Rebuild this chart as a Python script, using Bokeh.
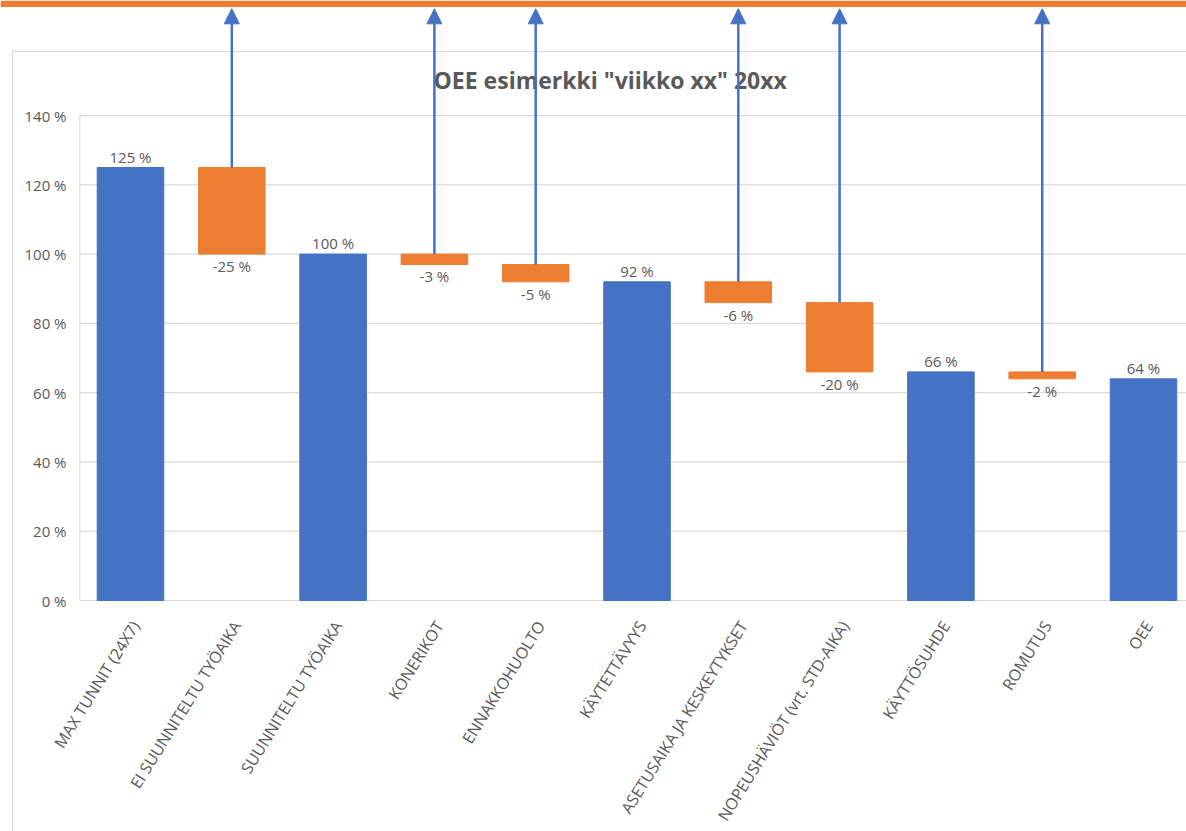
import math
from bokeh.plotting import figure
from bokeh.models import Range1d, ColumnDataSource, Arrow, NormalHead
from bokeh.core.properties import value
from bokeh.embed import file_html
from bokeh.resources import INLINE

# ---------------- data ----------------
categories = ["MAX TUNNIT (24X7)", "EI SUUNNITELTU TYÖAIKA", "SUUNNITELTU TYÖAIKA",
              "KONERIKOT", "ENNAKKOHUOLTO", "KÄYTETTÄVYYS", "ASETUSAIKA JA KESKEYTYKSET",
              "NOPEUSHÄVIÖT (vrt. STD-AIKA)", "KÄYTTÖSUHDE", "ROMUTUS", "OEE"]
values = [125, -25, 100, -3, -5, 92, -6, -20, 66, -2, 64]
is_total = [True, False, True, False, False, True, False, False, True, False, True]
y_ticks = [0, 20, 40, 60, 80, 100, 120, 140]
y_tick_labels = ["0 %", "20 %", "40 %", "60 %", "80 %", "100 %", "120 %", "140 %"]
title_text = 'OEE esimerkki "viikko xx" 20xx'

BLUE = "#4472C4"
ORANGE = "#ED7D31"
GRID = "#D9D9D9"
TXT = "#595959"
FONT = "Open Sans"

W, H = 1186, 831
CAT0_PX = 130.0      # pixel x of first category centre
PX_PER_CAT = 101.3
ZERO_PY = 600.0      # pixel y of 0 %
PX_PER_PCT = 3.464

X0 = -CAT0_PX / PX_PER_CAT
X1 = (W - CAT0_PX) / PX_PER_CAT
YT = ZERO_PY / PX_PER_PCT
YB = -(H - ZERO_PY) / PX_PER_PCT


def px2x(px):
    return X0 + px / PX_PER_CAT


def py2y(py):
    return (ZERO_PY - py) / PX_PER_PCT


# waterfall geometry from values
tot_x, tot_top = [], []
del_x, del_top, del_bot = [], [], []
running = 0
for i, (v, t) in enumerate(zip(values, is_total)):
    if t:
        running = v
        tot_x.append(i)
        tot_top.append(v)
    else:
        del_x.append(i)
        del_top.append(running)
        del_bot.append(running + v)
        running = running + v

p = figure(width=W, height=H, output_backend="svg", toolbar_location=None,
           x_range=Range1d(X0, X1), y_range=Range1d(YB, YT),
           x_axis_location=None, y_axis_location=None, min_border=0)
p.grid.visible = False
p.outline_line_color = None
p.background_fill_color = "white"
p.border_fill_color = "white"

# outer chart frame (left & top)
p.line(x=[px2x(12), px2x(12)], y=[py2y(51), YB], line_color=GRID, line_width=1.2)
p.line(x=[px2x(12), X1], y=[py2y(51), py2y(51)], line_color=GRID, line_width=1.2)

# gridlines
p.segment(x0=[-0.5] * len(y_ticks), x1=[X1] * len(y_ticks), y0=y_ticks, y1=y_ticks,
          line_color=GRID, line_width=1.2)
# plot-area left edge
p.line(x=[-0.5, -0.5], y=[y_ticks[0], y_ticks[-1]], line_color=GRID, line_width=1)

# bars
BW = 0.657
p.vbar(x=tot_x, top=tot_top, bottom=0, width=BW, fill_color=BLUE, line_color=BLUE)
p.vbar(x=del_x, top=del_top, bottom=del_bot, width=BW, fill_color=ORANGE, line_color=ORANGE)

# data labels
p.text(x=tot_x, y=tot_top, text=[f"{v} %" for v in tot_top], text_align="center",
       text_baseline="middle", y_offset=-11, text_font=value(FONT),
       text_font_size="15px", text_color=TXT)
del_vals = [values[i] for i in del_x]
p.text(x=del_x, y=del_bot, text=[f"{v} %" for v in del_vals], text_align="center",
       text_baseline="middle", y_offset=12, text_font=value(FONT),
       text_font_size="15px", text_color=TXT)

# y tick labels
p.text(x=[px2x(66)] * len(y_ticks), y=y_ticks, text=y_tick_labels, text_align="right",
       text_baseline="middle", text_font=value(FONT), text_font_size="15px", text_color=TXT)

# x category labels
p.text(x=list(range(len(categories))), y=[0] * len(categories), text=categories,
       angle=math.radians(58), text_align="right", text_baseline="middle",
       x_offset=5, y_offset=22, text_font=value(FONT), text_font_size="16px",
       text_color=TXT)

# title
p.text(x=[px2x(609.7)], y=[py2y(79)], text=[title_text], text_align="center",
       text_baseline="middle", text_font=value(FONT), text_font_size="23px",
       text_font_style="bold", text_color=TXT)

# orange band on top
p.quad(left=[X0], right=[X1], top=[YT], bottom=[py2y(6.5)], fill_color=ORANGE,
       line_color=None)

# arrows from each loss bar to the top
arr = ColumnDataSource(dict(x=del_x, y0=del_top, y1=[py2y(8.3)] * len(del_x)))
p.add_layout(Arrow(end=NormalHead(size=15, fill_color=BLUE, line_color=BLUE),
                   x_start="x", y_start="y0", x_end="x", y_end="y1", source=arr,
                   line_color=BLUE, line_width=2.5))

open("out.html", "w").write(file_html(p, INLINE))
